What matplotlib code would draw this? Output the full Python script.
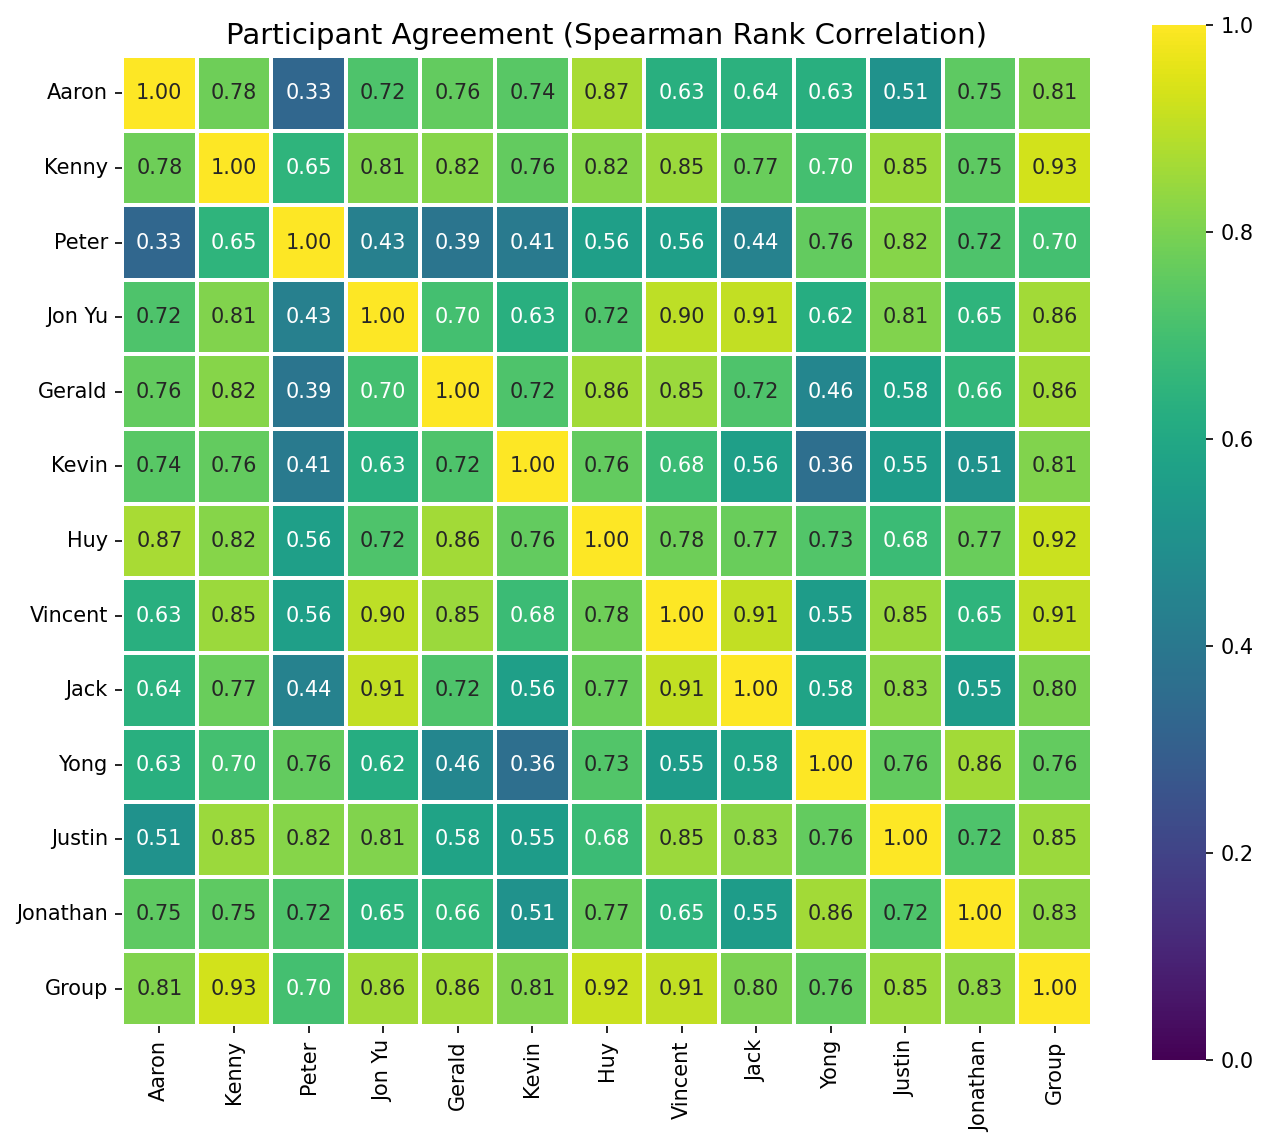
import numpy as np
import matplotlib
matplotlib.use("Agg")
import matplotlib.pyplot as plt
import seaborn as sns

names = ["Aaron", "Kenny", "Peter", "Jon Yu", "Gerald", "Kevin", "Huy",
         "Vincent", "Jack", "Yong", "Justin", "Jonathan", "Group"]

r_aaron    = [1.00, 0.78, 0.33, 0.72, 0.76, 0.74, 0.87, 0.63, 0.64, 0.63, 0.51, 0.75, 0.81]
r_kenny    = [0.78, 1.00, 0.65, 0.81, 0.82, 0.76, 0.82, 0.85, 0.77, 0.70, 0.85, 0.75, 0.93]
r_peter    = [0.33, 0.65, 1.00, 0.43, 0.39, 0.41, 0.56, 0.56, 0.44, 0.76, 0.82, 0.72, 0.70]
r_jonyu    = [0.72, 0.81, 0.43, 1.00, 0.70, 0.63, 0.72, 0.90, 0.91, 0.62, 0.81, 0.65, 0.86]
r_gerald   = [0.76, 0.82, 0.39, 0.70, 1.00, 0.72, 0.86, 0.85, 0.72, 0.46, 0.58, 0.66, 0.86]
r_kevin    = [0.74, 0.76, 0.41, 0.63, 0.72, 1.00, 0.76, 0.68, 0.56, 0.36, 0.55, 0.51, 0.81]
r_huy      = [0.87, 0.82, 0.56, 0.72, 0.86, 0.76, 1.00, 0.78, 0.77, 0.73, 0.68, 0.77, 0.92]
r_vincent  = [0.63, 0.85, 0.56, 0.90, 0.85, 0.68, 0.78, 1.00, 0.91, 0.55, 0.85, 0.65, 0.91]
r_jack     = [0.64, 0.77, 0.44, 0.91, 0.72, 0.56, 0.77, 0.91, 1.00, 0.58, 0.83, 0.55, 0.80]
r_yong     = [0.63, 0.70, 0.76, 0.62, 0.46, 0.36, 0.73, 0.55, 0.58, 1.00, 0.76, 0.86, 0.76]
r_justin   = [0.51, 0.85, 0.82, 0.81, 0.58, 0.55, 0.68, 0.85, 0.83, 0.76, 1.00, 0.72, 0.85]
r_jonathan = [0.75, 0.75, 0.72, 0.65, 0.66, 0.51, 0.77, 0.65, 0.55, 0.86, 0.72, 1.00, 0.83]
r_group    = [0.81, 0.93, 0.70, 0.86, 0.86, 0.81, 0.92, 0.91, 0.80, 0.76, 0.85, 0.83, 1.00]

matrix = np.array([r_aaron, r_kenny, r_peter, r_jonyu, r_gerald, r_kevin, r_huy,
                   r_vincent, r_jack, r_yong, r_justin, r_jonathan, r_group])

W, H = 1267, 1148
fig = plt.figure(figsize=(W / 100, H / 100), dpi=100)
ax = fig.add_axes([122 / W, (H - 1026) / H, 970 / W, 970 / H])
cax = fig.add_axes([1152 / W, (H - 1060) / H, 54 / W, 1035 / H])

sns.heatmap(matrix, ax=ax, cbar_ax=cax, cmap="viridis", vmin=0, vmax=1,
            annot=True, fmt=".2f", annot_kws={"fontsize": 15},
            linewidths=1.5, linecolor="white",
            xticklabels=names, yticklabels=names)
ax.set_title("Participant Agreement (Spearman Rank Correlation)", fontsize=21, pad=9)
ax.tick_params(axis="both", labelsize=15, length=5.25, width=1.2, pad=5)
plt.setp(ax.get_xticklabels(), rotation=90)
plt.setp(ax.get_yticklabels(), rotation=0)
cax.set_yticks([0, 0.2, 0.4, 0.6, 0.8, 1.0])
cax.set_yticklabels(["0.0", "0.2", "0.4", "0.6", "0.8", "1.0"])
cax.tick_params(labelsize=15, length=5.25, width=1.2, pad=5)

fig.savefig("out.png", dpi=100)
